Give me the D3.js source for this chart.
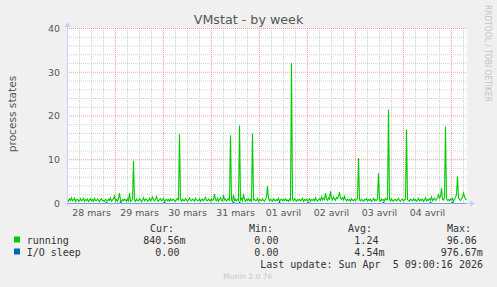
<!DOCTYPE html>
<html>
<head>
<meta charset="utf-8">
<script src="https://cdn.jsdelivr.net/npm/d3@7"></script>
<style>
body { margin: 0; background: #f0f0f0; }
svg { display: block; }
</style>
</head>
<body>
<div id="chart"></div>
<script>
const title = "VMstat - by week";
const yTitle = "process states";
const startTime = Date.UTC(2026, 2, 28, 0, 0);
const stepMinutes = 30;

// running processes, one reading every 30 min
const running = [
  0.9,0.5,1.1,0.7,1.3,0.6,0.8,1.2,0.4,0.9,1.0,0.5,0.7,1.1,0.6,0.8,1.2,0.5,0.9,0.7,
  1.0,0.4,0.8,1.1,0.6,0.9,0.5,1.2,0.7,0.6,1.0,0.8,0.4,0.9,1.1,0.6,0.7,0.5,0.9,0.8,
  0.6,1.0,0.7,1.3,0.5,0.8,1.1,1.7,0.6,0.9,0.5,1.2,2.4,0.7,0.4,0.9,0.6,1.0,0.8,0.5,
  1.1,0.6,2.4,0.5,0.7,0.9,9.7,0.8,0.5,1.0,0.7,0.6,1.1,0.9,0.4,0.8,1.3,0.6,0.9,1.0,
  0.5,0.7,1.2,0.6,0.9,1.5,0.8,0.6,1.0,1.6,0.7,0.5,0.9,1.1,0.6,0.8,1.2,0.5,0.7,1.0,
  0.6,0.9,0.5,1.1,0.7,0.8,1.0,0.6,0.5,0.9,1.2,0.7,15.8,0.9,0.5,1.0,0.7,0.6,1.1,0.8,
  0.5,0.9,1.3,0.7,0.6,1.0,0.8,0.5,1.2,0.9,0.6,0.7,1.1,0.5,0.8,1.0,0.6,0.9,1.4,0.7,
  0.6,1.0,0.8,0.5,1.1,0.7,0.9,2.2,0.8,0.6,1.2,0.5,0.9,1.3,0.7,0.6,2.0,0.8,1.0,0.5,
  0.9,1.1,0.6,15.6,0.8,0.5,2.0,0.7,1.0,0.6,0.9,0.7,17.8,0.8,1.2,0.6,2.2,0.9,0.5,1.0,
  0.7,1.1,0.6,0.9,0.5,16.0,0.8,1.0,0.6,0.7,1.2,0.5,0.9,0.8,0.6,1.1,0.7,0.5,1.0,1.5,
  4.0,1.2,0.6,1.0,0.7,0.5,1.1,0.8,0.6,0.9,0.7,1.2,0.5,0.8,1.0,0.6,0.9,0.7,1.1,0.6,
  0.8,0.5,1.0,0.7,32.1,0.9,0.6,1.1,0.8,0.5,0.9,0.7,1.0,0.6,0.8,1.2,0.5,0.9,0.7,1.0,
  0.6,0.8,1.1,0.5,0.9,0.7,1.0,0.6,1.3,0.8,0.5,0.9,1.1,0.7,1.5,0.8,1.2,0.9,2.4,1.0,
  0.7,1.3,1.0,2.8,1.2,0.8,1.5,1.0,0.7,1.4,1.1,1.6,2.6,1.2,0.9,1.3,0.8,1.6,0.9,0.6,
  1.0,0.7,0.9,0.5,1.1,0.8,0.6,1.0,0.7,0.9,1.2,10.4,0.8,0.6,1.0,0.7,0.5,0.9,0.8,1.1,
  0.6,0.9,0.7,1.0,0.5,0.8,1.2,0.6,0.9,0.7,1.1,6.9,0.8,0.5,1.0,0.7,0.9,0.6,1.2,0.8,
  1.0,21.5,0.9,0.6,1.1,0.7,0.5,0.9,1.0,0.6,0.8,1.2,0.7,0.5,0.9,1.0,0.6,0.8,1.1,16.9,
  0.9,0.7,0.5,1.0,0.8,0.6,1.1,0.7,0.9,0.5,0.8,1.2,0.6,0.9,0.7,1.0,0.5,0.8,1.3,0.6,
  0.9,0.7,1.1,0.8,1.5,0.6,1.0,1.2,0.7,0.9,1.4,2.0,1.2,1.6,3.6,1.0,0.8,1.3,17.6,1.1,
  0.7,0.9,0.6,1.0,0.8,1.2,0.5,0.9,1.4,2.0,6.2,1.3,0.9,0.7,1.1,1.5,2.4,1.6,1.0,0.8
];

// I/O sleep, same timestamps
const ioSleep = [
  0,0,0,0,0,0,0,0,0,0,0,0,0,0,0,0,0,0,0,0,
  0,0,0,0,0,0,0,0,0,0,0,0,0,0,0,0,0,0,0,0.3,
  0,0,0,0,0,0,0,0,0,0,0,0,0,0.3,0,0,0,0,0,0,
  0,0,0,0,0,0,0,0,0,0,0,0,0,0,0,0,0,0,0,0,
  0,0,0,0,0,0,0,0,0,0,0,0,0,0,0,0,0,0.3,0,0,
  0,0,0,0,0,0,0,0,0,0,0,0,0,0,0,0,0,0,0,0,
  0,0,0,0,0,0,0,0,0,0,0,0,0,0,0,0,0,0,0,0,
  0,0,0,0,0,0,0,0,0,0,0,0,0,0,0,0,0,0,0,0,
  0,0,0,0,0,0,0.3,0,0,0,0,0,0.3,0,0,0,0,0,0,0,
  0,0,0,0,0,0,0,0,0,0,0,0,0,0,0,0,0,0,0,0,
  0,0,0,0,0,0,0,0,0,0,0,0,0.3,0,0,0,0,0,0,0,
  0,0,0,0,0,0,0,0,0,0,0,0,0,0,0,0,0,0,0,0,
  0,0.3,0,0,0,0,0,0,0,0,0,0,0,0,0,0,0,0,0,0,
  0,0,0,0,0,0,0,0,0,0,0,0,0,0,0,0,0,0,0,0,
  0,0,0,0,0,0,0,0,0,0,0,0,0,0,0,0,0,0,0,0,
  0,0,0,0,0,0,0,0,0,0,0,0,0,0,0,0,0.3,0,0,0,
  0,0,0,0,0,0,0,0,0,0,0,0,0,0,0,0,0,0,0,0,
  0,0,0,0,0,0,0,0,0,0,0,0,0,0,0,0,0,0,0,0,
  0,0,0,0.3,0,0,0,0,0,0,0,0,0,0,0,0,0,0,0,0,
  0,0,0,0,0,0.3,0,0,0,0,0,0,0,0,0,0,0,0,0,0
];

const seriesNames = ["running", "I/O sleep"];
const seriesColors = ["#00cc00", "#0066b3"];
const statHeaders = ["Cur:", "Min:", "Avg:", "Max:"];
const statRunning = ["840.56m", "  0.00 ", "  1.24 ", " 96.06 "];
const statIoSleep = ["  0.00 ", "  0.00 ", "  4.54m", "976.67m"];
const lastUpdate = "Last update: Sun Apr  5 09:00:16 2026";
const footer = "Munin 2.0.76";
const watermark = "RRDTOOL / TOBI OETIKER";

const width = 497, height = 287;
const plotL = 67, plotR = 467, plotT = 28, plotB = 203;

const fr = d3.timeFormatLocale({
  dateTime: "%A %e %B %Y à %X", date: "%d/%m/%Y", time: "%H:%M:%S",
  periods: ["AM", "PM"],
  days: ["dimanche","lundi","mardi","mercredi","jeudi","vendredi","samedi"],
  shortDays: ["dim.","lun.","mar.","mer.","jeu.","ven.","sam."],
  months: ["janvier","février","mars","avril","mai","juin","juillet","août","septembre","octobre","novembre","décembre"],
  shortMonths: ["janv.","févr.","mars","avr.","mai","juin","juil.","août","sept.","oct.","nov.","déc."]
});
const dayFmt = fr.utcFormat("%d %B");

const endTime = startTime + 200 * 3600e3;
const x = d3.scaleUtc().domain([startTime, endTime]).range([plotL + 0.5, plotR + 0.5]);
const y = d3.scaleLinear().domain([0, 40]).range([plotB + 0.5, plotT + 0.5]);

const svg = d3.select("#chart").append("svg")
  .attr("width", width).attr("height", height)
  .style("font-family", "'DejaVu Sans', sans-serif");

svg.append("rect").attr("width", width).attr("height", height).attr("fill", "#f0f0f0");
svg.append("rect").attr("x", plotL).attr("y", plotT).attr("width", plotR - plotL).attr("height", plotB - plotT)
  .attr("fill", "#fff");

// grid
const minorX = x.ticks(d3.utcHour.every(6)).filter(d => d.getUTCHours() !== 0);
const majorX = x.ticks(d3.utcDay);
const minorY = y.ticks(20).filter(v => v % 10 !== 0);
const majorY = y.ticks(4).filter(v => v > 0);

const grid = svg.append("g").attr("stroke-width", 1).attr("stroke-dasharray", "1,1");
grid.selectAll(".mx").data(minorX).join("line")
  .attr("x1", d => x(d)).attr("x2", d => x(d)).attr("y1", plotT).attr("y2", plotB)
  .attr("stroke", "#cfcfcf");
grid.selectAll(".my").data(minorY).join("line")
  .attr("x1", plotL).attr("x2", plotR).attr("y1", d => y(d)).attr("y2", d => y(d))
  .attr("stroke", "#cfcfcf");
grid.selectAll(".Mx").data(majorX).join("line")
  .attr("x1", d => x(d)).attr("x2", d => x(d)).attr("y1", plotT).attr("y2", plotB)
  .attr("stroke", "#f09a9a");
grid.selectAll(".My").data(majorY).join("line")
  .attr("x1", plotL).attr("x2", plotR).attr("y1", d => y(d)).attr("y2", d => y(d))
  .attr("stroke", "#f09a9a");

// series
const t = i => startTime + i * stepMinutes * 60e3;
const line = d3.line().x((d, i) => x(t(i))).y(d => y(d));
[running, ioSleep].forEach((s, k) => {
  svg.append("path").datum(s)
    .attr("fill", "none").attr("stroke", seriesColors[k]).attr("stroke-width", 1.1)
    .attr("d", line);
});

// axes with arrows
const axisColor = "#c8cef4";
svg.append("line").attr("x1", plotL - 3).attr("x2", plotR + 4).attr("y1", plotB + 0.5).attr("y2", plotB + 0.5)
  .attr("stroke", axisColor).attr("opacity", 0.6);
svg.append("line").attr("x1", plotL + 0.5).attr("x2", plotL + 0.5).attr("y1", plotB + 3).attr("y2", plotT - 3)
  .attr("stroke", axisColor);
svg.append("path").attr("fill", axisColor)
  .attr("d", `M${plotR + 3},${plotB - 2.5}L${plotR + 8},${plotB + 0.5}L${plotR + 3},${plotB + 3.5}Z`);
svg.append("path").attr("fill", axisColor)
  .attr("d", `M${plotL - 2.5},${plotT - 1}L${plotL + 0.5},${plotT - 6}L${plotL + 3.5},${plotT - 1}Z`);

// tick labels
const labelColor = "#555";
svg.append("g").selectAll("text").data(x.ticks(d3.utcHour.every(12)).filter(d => d.getUTCHours() === 12))
  .join("text")
  .attr("x", d => x(d)).attr("y", 216)
  .attr("text-anchor", "middle").attr("font-size", 9.4).attr("fill", labelColor)
  .text(d => dayFmt(d));
svg.append("g").selectAll("text").data(y.ticks(4))
  .join("text")
  .attr("x", 60).attr("y", d => y(d)).attr("dy", "0.36em")
  .attr("text-anchor", "end").attr("font-size", 9.4).attr("fill", labelColor)
  .text(d => d);

svg.append("text").attr("x", 248.5).attr("y", 24).attr("text-anchor", "middle")
  .attr("font-size", 12.7).attr("fill", labelColor).text(title);
svg.append("text").attr("transform", "translate(15.5,114) rotate(-90)").attr("text-anchor", "middle")
  .attr("font-size", 10.6).attr("fill", labelColor).text(yTitle);
svg.append("text").attr("transform", "translate(485,5) rotate(90)").attr("text-anchor", "start")
  .attr("font-size", 8).attr("fill", "#c4c4c4")
  .attr("textLength", 97).attr("lengthAdjust", "spacingAndGlyphs")
  .text(watermark);

// legend
const mono = "'DejaVu Sans Mono', monospace";
const legend = svg.append("g").style("font-family", mono).attr("font-size", 10).attr("fill", "#333");
const headerX = [150, 249, 348, 447];
const valueX = [143.3, 242.3, 342.3, 440.7];
legend.selectAll(".h").data(statHeaders).join("text")
  .attr("x", (d, i) => headerX[i]).attr("y", 232).text(d => d);
[statRunning, statIoSleep].forEach((row, k) => {
  const yy = 243.5 + k * 12;
  legend.append("rect").attr("x", 14).attr("y", yy - 7).attr("width", 6).attr("height", 6)
    .attr("fill", seriesColors[k]);
  legend.append("text").attr("x", 26.7).attr("y", yy).text(seriesNames[k]);
  legend.selectAll(".v" + k).data(row).join("text")
    .attr("xml:space", "preserve")
    .attr("x", (d, i) => valueX[i]).attr("y", yy).text(d => d);
});
legend.append("text").attr("xml:space", "preserve")
  .attr("x", 483).attr("y", 267.5).attr("text-anchor", "end").text(lastUpdate);

svg.append("text").attr("x", 247.7).attr("y", 279).attr("text-anchor", "middle")
  .attr("font-size", 7.5).attr("fill", "#c8c8c8").text(footer);
</script>
</body>
</html>
